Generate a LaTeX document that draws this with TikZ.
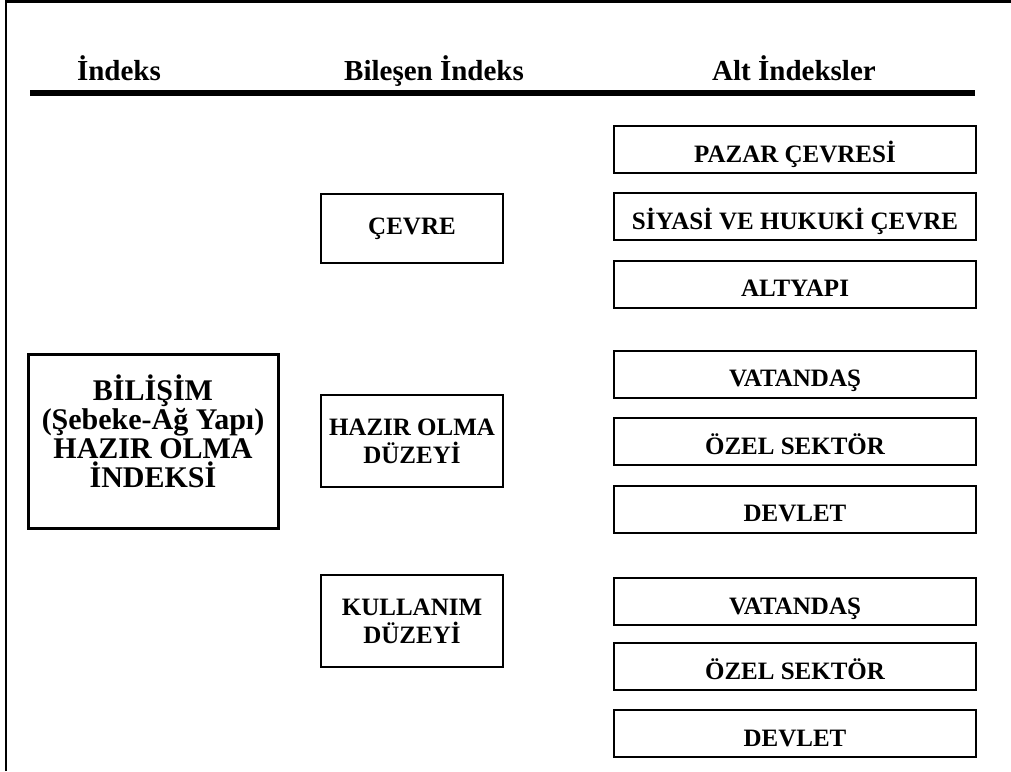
\documentclass[tikz,border=0pt]{standalone}
\usepackage{fontspec}
\setmainfont{Liberation Serif}
\begin{document}
\begin{tikzpicture}[x=0.5pt,y=-0.5pt,
  head/.style={anchor=base, inner sep=0pt, font=\fontsize{14.5}{16}\selectfont\bfseries},
  mainbox/.style={draw, line width=1.5pt, minimum width=125pt, minimum height=87pt, inner sep=0pt, align=center, text height=56pt, text depth=10pt, font=\fontsize{15}{14.5}\selectfont\bfseries},
  compbox/.style={draw, line width=1pt, minimum width=91pt, inner sep=0pt, align=center, font=\fontsize{12.5}{14}\selectfont\bfseries},
  subbox/.style={draw, line width=1pt, minimum width=181pt, minimum height=23.5pt, inner sep=0pt, text height=12.8pt, text depth=0pt, font=\fontsize{12.5}{14}\selectfont\bfseries}]
\useasboundingbox (0,0) rectangle (1011,771);
\draw[line width=1.2pt] (6,771) -- (6,1.5) -- (1011,1.5);
\node[head] (h1) at (119,80) {İndeks};
\node[head] (h2) at (434,80) {Bileşen İndeks};
\node[head] (h3) at (794,80) {Alt İndeksler};
\draw[line width=3pt] (30,93) -- (975,93);
\node[mainbox] (idx) at (153,441) {BİLİŞİM\\(Şebeke-Ağ Yapı)\\HAZIR OLMA\\İNDEKSİ};
\node[compbox, minimum height=34.5pt] (cevre) at (412,228.5) {ÇEVRE};
\node[compbox, minimum height=46pt] (hazir) at (412,441) {HAZIR OLMA\\DÜZEYİ};
\node[compbox, minimum height=46pt] (kul) at (412,621) {KULLANIM\\DÜZEYİ};
\node[subbox] (s1) at (795,149.5) {PAZAR ÇEVRESİ};
\node[subbox] (s2) at (795,216.5) {SİYASİ VE HUKUKİ ÇEVRE};
\node[subbox] (s3) at (795,284) {ALTYAPI};
\node[subbox] (s4) at (795,374) {VATANDAŞ};
\node[subbox] (s5) at (795,441.5) {ÖZEL SEKTÖR};
\node[subbox] (s6) at (795,509) {DEVLET};
\node[subbox] (s7) at (795,601.5) {VATANDAŞ};
\node[subbox] (s8) at (795,666.5) {ÖZEL SEKTÖR};
\node[subbox] (s9) at (795,733.5) {DEVLET};
\end{tikzpicture}
\end{document}
